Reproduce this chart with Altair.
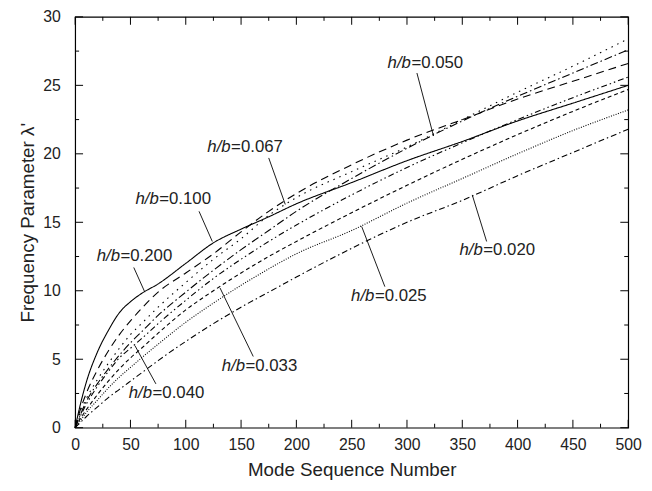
import altair as alt
import pandas as pd

# ---- data ----
MODES = [0, 5, 10, 20, 30, 40, 50, 60, 75, 100, 125, 150, 175, 200, 250, 300, 350, 400, 450, 500]

LAM_200 = [0, 1.8, 3.3, 5.5, 7.1, 8.4, 9.2, 9.8, 10.5, 12.0, 13.5, 14.5, 15.4, 16.35, 17.9, 19.5, 20.9, 22.4, 23.7, 25.0]
LAM_100 = [0, 1.4, 2.5, 4.2, 5.6, 6.8, 7.8, 8.7, 9.9, 11.3, 12.7, 14.3, 15.8, 17.1, 19.2, 21.0, 22.5, 24.0, 25.3, 26.6]
LAM_067 = [0, 1.2, 2.1, 3.5, 4.7, 5.8, 6.8, 7.6, 8.8, 10.6, 12.3, 13.8, 15.5, 16.8, 18.7, 20.5, 22.5, 24.5, 26.4, 28.4]
LAM_050 = [0, 1.0, 1.9, 3.2, 4.3, 5.3, 6.2, 7.0, 8.2, 9.9, 11.5, 13.0, 14.4, 15.8, 18.2, 20.4, 22.4, 24.2, 25.9, 27.6]
LAM_040 = [0, 0.9, 1.7, 3.0, 4.1, 5.1, 5.8, 6.5, 7.6, 9.3, 10.9, 12.3, 13.6, 14.8, 17.0, 19.0, 20.8, 22.5, 24.1, 25.6]
LAM_033 = [0, 0.7, 1.3, 2.4, 3.4, 4.3, 5.1, 5.8, 6.9, 8.6, 10.0, 11.3, 12.5, 13.6, 15.7, 17.7, 19.6, 21.4, 23.1, 24.7]
LAM_025 = [0, 0.55, 1.1, 2.0, 2.9, 3.7, 4.4, 5.1, 6.1, 7.7, 9.1, 10.4, 11.6, 12.7, 14.4, 16.4, 18.2, 20.0, 21.7, 23.2]
LAM_020 = [0, 0.4, 0.8, 1.5, 2.2, 2.8, 3.4, 4.0, 4.9, 6.3, 7.6, 8.8, 9.9, 11.0, 13.1, 15.0, 16.6, 18.4, 20.1, 21.8]

SERIES = ["0.200", "0.100", "0.067", "0.050", "0.040", "0.033", "0.025", "0.020"]
VALUES = [LAM_200, LAM_100, LAM_067, LAM_050, LAM_040, LAM_033, LAM_025, LAM_020]
DASHES = [[1, 0], [8, 5], [1.5, 5], [8, 3, 1.5, 3], [6, 3, 1.5, 3, 1.5, 3], [4, 3], [1, 1.5], [6, 3, 1.5, 3]]

# annotation labels: anchor ("=" position), leader start, leader end (data units)
LABEL_SERIES = ["0.050", "0.067", "0.100", "0.200", "0.040", "0.033", "0.025", "0.020"]
LABEL_X = [304, 141, 76, 41, 70, 154, 271, 369]
LABEL_Y = [26.6, 20.5, 16.7, 12.5, 2.5, 4.5, 9.6, 12.95]
LEAD_X1 = [309, 175, 112, 53, 73, 161, 280, 372]
LEAD_Y1 = [25.9, 19.7, 15.8, 11.7, 3.2, 5.2, 10.3, 13.6]
LEAD_X2 = [324, 190, 124, 63, 54, 131, 259, 359]
LEAD_Y2 = [21.3, 16.3, 13.6, 9.9, 6.0, 10.2, 14.7, 17.0]

X_MAJOR = list(range(0, 501, 50))
X_MINOR = list(range(25, 500, 50))
Y_MAJOR = list(range(0, 31, 5))
Y_MINOR = [2.5, 7.5, 12.5, 17.5, 22.5, 27.5]

W, H = 560, 416
MAJOR_LEN, MINOR_LEN = 8, 4
FONT = "Liberation Sans"
INK = "#222222"

rows = []
for s, vals in zip(SERIES, VALUES):
    for m, v in zip(MODES, vals):
        rows.append({"mode": m, "lam": v, "series": s})
df = pd.DataFrame(rows)

lab = pd.DataFrame({
    "series": LABEL_SERIES, "lx": LABEL_X, "ly": LABEL_Y,
    "x1": LEAD_X1, "y1": LEAD_Y1, "x2": LEAD_X2, "y2": LEAD_Y2,
})
lab["pre"] = "h/b"
lab["post"] = "=" + lab["series"]

xs = alt.Scale(domain=[0, 500], nice=False, zero=False)
ys = alt.Scale(domain=[0, 30], nice=False, zero=False)

x_lab_axis = alt.Axis(values=X_MAJOR, ticks=False, tickSize=0, domain=False, grid=False,
                      labelFontSize=16, labelFont=FONT, labelColor=INK, labelPadding=9,
                      labelFlush=False, labelOverlap=False,
                      title="Mode Sequence Number", titleFont=FONT, titleFontSize=19,
                      titleFontWeight="normal", titleColor=INK, titlePadding=8)
y_lab_axis = alt.Axis(values=Y_MAJOR, ticks=False, tickSize=0, domain=False, grid=False,
                      labelFontSize=16, labelFont=FONT, labelColor=INK, labelPadding=15,
                      labelOverlap=False,
                      title="Frequency Parameter λ'", titleFont=FONT, titleFontSize=19,
                      titleFontWeight="normal", titleColor=INK, titlePadding=5)

lines = alt.Chart(df).mark_line(color="black", strokeWidth=1.1, interpolate="monotone").encode(
    x=alt.X("mode:Q", scale=xs, axis=x_lab_axis),
    y=alt.Y("lam:Q", scale=ys, axis=y_lab_axis),
    strokeDash=alt.StrokeDash("series:N", scale=alt.Scale(domain=SERIES, range=DASHES), legend=None),
    detail="series:N",
)


def xticks(vals, length, side):
    d = pd.DataFrame({"t": vals})
    if side == "bottom":
        y1, y2 = H, H - length
    else:
        y1, y2 = 0, length
    return alt.Chart(d).mark_rule(color="black", strokeWidth=1).encode(
        x=alt.X("t:Q", scale=xs), y=alt.value(y1), y2=alt.value(y2))


def yticks(vals, length, side):
    d = pd.DataFrame({"t": vals})
    if side == "left":
        x1, x2 = 0, length
    else:
        x1, x2 = W, W - length
    return alt.Chart(d).mark_rule(color="black", strokeWidth=1).encode(
        y=alt.Y("t:Q", scale=ys), x=alt.value(x1), x2=alt.value(x2))


ticks = [
    xticks(X_MAJOR, MAJOR_LEN, "bottom"), xticks(X_MINOR, MINOR_LEN, "bottom"),
    xticks(X_MAJOR, MAJOR_LEN, "top"), xticks(X_MINOR, MINOR_LEN, "top"),
    yticks(Y_MAJOR, MAJOR_LEN, "left"), yticks(Y_MINOR, MINOR_LEN, "left"),
    yticks(Y_MAJOR, MAJOR_LEN, "right"), yticks(Y_MINOR, MINOR_LEN, "right"),
]

leaders = alt.Chart(lab).mark_rule(color="black", strokeWidth=0.9).encode(
    x=alt.X("x1:Q", scale=xs), y=alt.Y("y1:Q", scale=ys),
    x2="x2:Q", y2="y2:Q",
)
pre_text = alt.Chart(lab).mark_text(align="right", baseline="middle", font=FONT, fontSize=17,
                                    fontStyle="italic", color=INK, dx=-0.5).encode(
    x=alt.X("lx:Q", scale=xs), y=alt.Y("ly:Q", scale=ys), text="pre:N")
post_text = alt.Chart(lab).mark_text(align="left", baseline="middle", font=FONT, fontSize=17,
                                     color=INK).encode(
    x=alt.X("lx:Q", scale=xs), y=alt.Y("ly:Q", scale=ys), text="post:N")

chart = alt.layer(lines, *ticks, leaders, pre_text, post_text).properties(
    width=W, height=H,
    autosize=alt.AutoSizeParams(type="none"),
    padding={"left": 68, "top": 6, "right": 16, "bottom": 53},
    background="white",
).configure_view(stroke="black", strokeWidth=1.2)

chart.save("out.html", embed_options={"renderer": "svg", "actions": False})
